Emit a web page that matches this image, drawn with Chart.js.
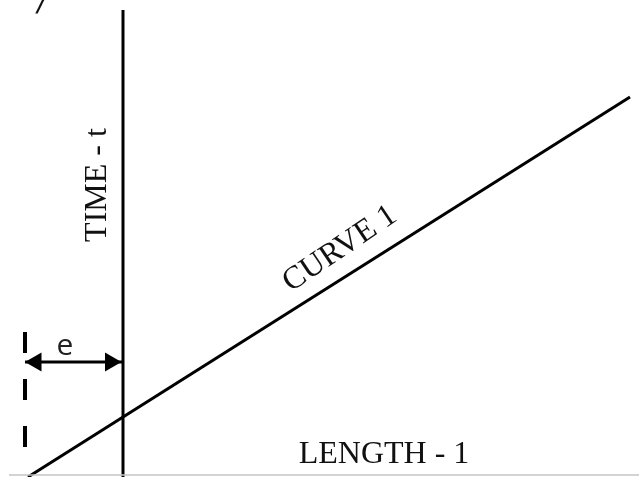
<!DOCTYPE html>
<html>
<head>
<meta charset="utf-8">
<script src="https://cdn.jsdelivr.net/npm/chart.js@4/dist/chart.umd.min.js"></script>
<style>
  html, body { margin: 0; padding: 0; background: #ffffff; }
  canvas { display: block; }
</style>
</head>
<body>
<canvas id="diagram" width="639" height="477"></canvas>
<script>
// Diagram values in length/time units
const curve1 = [ { x: -9.5, y: -0.2 }, { x: 50.7, y: 37.8 } ];   // CURVE 1
const timeAxis = [ { x: 0, y: -0.3 }, { x: 0, y: 46.5 } ];       // TIME - t axis
const offsetLine = [ { x: -9.8, y: 14.3 }, { x: -9.8, y: 2.6 } ]; // dashed reference at -e
const offsetArrow = [ { x: -9.8, y: 11.3 }, { x: -8.7, y: 11.3 }, { x: -1.25, y: 11.3 }, { x: 0, y: 11.3 } ];
const lengthBase = [ { x: -11.4, y: 0 }, { x: 51.6, y: 0 } ];

// Text drawn on the diagram
const labels = [
  { text: 'LENGTH - 1', x: 26.1, y: 1.2, rot: 0, font: '32px "Liberation Serif", "Times New Roman", serif', align: 'center', base: 'alphabetic', color: '#111' },
  { text: 'TIME - t', x: -1.7, y: 29.0, rot: -90, font: '32px "Liberation Serif", "Times New Roman", serif', align: 'center', base: 'alphabetic', color: '#111' },
  { text: 'CURVE 1', x: 21.7, y: 22.6, rot: -34, font: '32px "Liberation Serif", "Times New Roman", serif', align: 'center', base: 'middle', color: '#111' },
  { text: 'e', x: -5.8, y: 12.0, rot: 0, font: '30px "Open Sans", "DejaVu Sans", sans-serif', align: 'center', base: 'alphabetic', color: '#222' },
  { text: '/', x: -8.2, y: 47.0, rot: 0, font: 'bold italic 22px "DejaVu Serif", serif', align: 'center', base: 'middle', color: '#111' }
];

const textPlugin = {
  id: 'diagramText',
  afterDatasetsDraw(chart) {
    const { ctx, scales } = chart;
    labels.forEach(l => {
      ctx.save();
      ctx.translate(scales.x.getPixelForValue(l.x), scales.y.getPixelForValue(l.y));
      ctx.rotate(l.rot * Math.PI / 180);
      ctx.font = l.font;
      ctx.fillStyle = l.color;
      ctx.textAlign = l.align;
      ctx.textBaseline = l.base;
      ctx.fillText(l.text, 0, 0);
      ctx.restore();
    });
  }
};

const line = (data, extra) => Object.assign({
  data, showLine: true, borderColor: '#000', backgroundColor: '#000',
  borderWidth: 3, pointRadius: 0, fill: false, tension: 0, clip: false
}, extra);

new Chart(document.getElementById('diagram'), {
  type: 'scatter',
  data: {
    datasets: [
      line(lengthBase, { borderColor: '#c4c4c4', borderWidth: 1.5 }),
      line(timeAxis, { borderWidth: 3 }),
      line(curve1, { borderWidth: 3 }),
      line(offsetLine, { borderWidth: 4, borderDash: [21, 26] }),
      line(offsetArrow, {
        borderWidth: 3,
        pointStyle: 'triangle',
        pointRadius: [0, 11, 11, 0],
        pointRotation: [0, -90, 90, 0],
        pointBorderWidth: 0
      })
    ]
  },
  options: {
    responsive: false,
    devicePixelRatio: 1,
    animation: false,
    events: [],
    layout: { padding: 0 },
    plugins: { legend: { display: false }, tooltip: { enabled: false } },
    scales: {
      x: { type: 'linear', display: false, min: -12.3, max: 51.6 },
      y: { type: 'linear', display: false, min: -0.2, max: 47.5 }
    }
  },
  plugins: [textPlugin]
});
</script>
</body>
</html>
